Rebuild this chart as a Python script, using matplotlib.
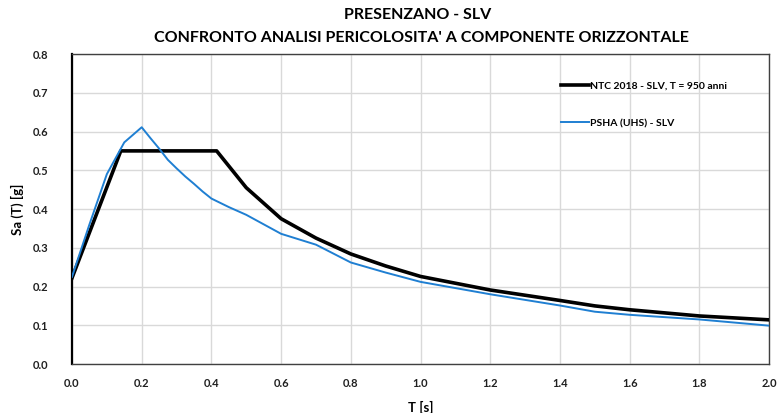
import matplotlib
matplotlib.use("Agg")
import matplotlib.pyplot as plt

plt.rcParams['font.family'] = ['Lato', 'DejaVu Sans']
plt.rcParams['font.weight'] = 'bold'

# Spettro di normativa NTC 2018 - SLV
t_ntc = [0.0, 0.14, 0.415, 0.5, 0.6, 0.7, 0.8, 0.9, 1.0, 1.2, 1.4, 1.5, 1.6, 1.8, 2.0]
sa_ntc = [0.222, 0.55, 0.55, 0.455, 0.375, 0.325, 0.284, 0.253, 0.226, 0.191, 0.164, 0.150, 0.140, 0.124, 0.114]

# Spettro a pericolosita' uniforme (UHS) - SLV
t_uhs = [0.0, 0.05, 0.1, 0.15, 0.2, 0.225, 0.25, 0.275, 0.3, 0.325, 0.35, 0.375, 0.4, 0.45, 0.5,
         0.6, 0.7, 0.75, 0.8, 0.9, 1.0, 1.2, 1.4, 1.5, 1.6, 1.8, 2.0]
sa_uhs = [0.225, 0.36, 0.49, 0.572, 0.611, 0.583, 0.556, 0.527, 0.505, 0.484, 0.465, 0.445, 0.427, 0.405, 0.385,
          0.336, 0.308, 0.285, 0.262, 0.236, 0.212, 0.180, 0.151, 0.135, 0.127, 0.115, 0.099]

label_ntc = 'NTC 2018 - SLV, T = 950 anni'
label_uhs = 'PSHA (UHS) - SLV'

fig = plt.figure(figsize=(7.8, 4.13), dpi=100)
ax = fig.add_axes([0.0923, 0.1186, 0.8937, 0.7506])

ax.plot(t_ntc, sa_ntc, color='black', lw=2.6, label=label_ntc, zorder=3)
ax.plot(t_uhs, sa_uhs, color='#1f7fd2', lw=1.4, label=label_uhs, zorder=4)

ax.set_xlim(0, 2.0)
ax.set_ylim(0, 0.8)
ax.set_xticks([i * 0.2 for i in range(11)])
ax.set_yticks([i * 0.1 for i in range(9)])
ax.xaxis.set_major_formatter(plt.FormatStrFormatter('%.1f'))
ax.yaxis.set_major_formatter(plt.FormatStrFormatter('%.1f'))
ax.tick_params(axis='both', length=0, labelsize=8, colors='#202020')
ax.tick_params(axis='y', pad=17)
ax.tick_params(axis='x', pad=10)
ax.grid(True, color='#d9d9d9', lw=1)
ax.set_axisbelow(True)

for side in ['top', 'right', 'bottom']:
    ax.spines[side].set_color('#404040')
    ax.spines[side].set_linewidth(1.0)
ax.spines['left'].set_color('black')
ax.spines['left'].set_linewidth(1.6)

ax.set_xlabel('T [s]', fontsize=9.5, fontweight='bold', labelpad=9)
ax.set_ylabel('Sa (T) [g]', fontsize=9.5, fontweight='bold', labelpad=6)

fig.text(0.535, 0.963, 'PRESENZANO - SLV', ha='center', va='center', fontsize=11.5, fontweight='bold')
fig.text(0.540, 0.908, "CONFRONTO ANALISI PERICOLOSITA' A COMPONENTE ORIZZONTALE",
         ha='center', va='center', fontsize=11.5, fontweight='bold')

ax.legend(loc='upper left', bbox_to_anchor=(0.695, 0.925), frameon=False,
          fontsize=7.5, handlelength=2.7, handletextpad=0.1, labelspacing=2.7,
          borderaxespad=0)

fig.savefig('out.png', dpi=100)
